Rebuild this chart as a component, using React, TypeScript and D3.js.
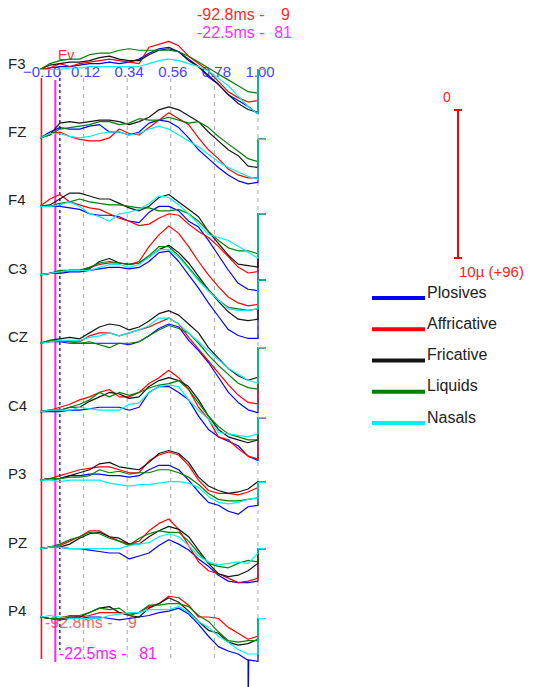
import React from "react";
import * as d3 from "d3";

// ---------- DATA ----------
const channels = ["F3", "FZ", "F4", "C3", "CZ", "C4", "P3", "PZ", "P4"];
const categories = ["Plosives", "Affricative", "Fricative", "Liquids", "Nasals"];
const categoryColors = ["#0000ff", "#ff0000", "#141414", "#008000", "#00f0f0"];
const times = [-0.1, -0.05, 0.0, 0.05, 0.1, 0.15, 0.2, 0.25, 0.3, 0.35, 0.4, 0.45, 0.5, 0.55, 0.6, 0.65, 0.7, 0.75, 0.8, 0.85, 0.9, 0.95, 1.0];
const tickValues = [-0.1, 0.12, 0.34, 0.56, 0.78, 1.0];
const gridValues = [0.12, 0.34, 0.56, 0.78, 1.0];
const cursorRed = -0.0928;
const cursorMagenta = -0.0225;
const cursorEvent = 0.0;
const cursorTexts = ["-92.8ms -", "9", "-22.5ms -", "81"];
const scaleBarValues = [0, 10];

// amplitudes in µV (positive = downward), series order = categories
const F3 = [
  [0, -0.1, -0.2, -0.2, -0.3, -0.4, -0.4, -0.5, -0.4, -0.5, -0.7, -1.1, -1.4, -1.5, -1.2, -0.7, -0.2, 0.5, 1.0, 1.7, 2.1, 2.5, 3.0],
  [0, -0.1, -0.4, -0.2, -0.4, -0.5, -0.6, -0.7, -0.6, -0.5, -0.4, -1.5, -1.7, -1.9, -1.6, -0.9, -0.4, 0.1, 0.8, 1.5, 1.9, 2.2, 2.1],
  [0, -0.3, -0.4, -0.5, -0.5, -0.6, -0.8, -0.9, -0.7, -0.6, -0.6, -1.0, -1.3, -1.4, -1.2, -0.6, -0.2, 0.4, 1.0, 1.7, 2.3, 2.7, 2.9],
  [0, -0.4, -0.6, -0.7, -0.7, -1.0, -1.1, -1.1, -1.3, -1.4, -1.3, -1.3, -1.3, -1.3, -1.2, -0.9, -0.5, -0.1, 0.3, 0.7, 1.1, 1.5, 1.6],
  [0, 0, 0, -0.1, -0.1, -0.2, -0.2, -0.2, -0.2, -0.2, -0.2, -0.4, -0.6, -0.7, -0.6, -0.4, -0.2, 0.1, 0.6, 1.1, 1.8, 2.5, 3.0],
];
const FZ = [
  [0, -0.4, -0.7, -0.6, -0.6, -0.8, -0.9, -0.4, -0.4, -0.2, -0.4, -1.0, -1.2, -1.1, -0.7, 0, 0.8, 1.4, 2.0, 2.5, 2.9, 3.1, 3.0],
  [0, -0.3, -0.4, -0.1, 0.1, 0.2, 0.2, 0, -0.6, -0.3, -0.2, -0.7, -1.2, -1.7, -1.3, -0.9, 0, 0.8, 1.4, 2.1, 2.5, 2.7, 2.7],
  [0, -0.2, -1.0, -1.1, -1.0, -1.1, -1.2, -1.2, -1.1, -0.9, -1.1, -1.4, -1.9, -2.1, -1.9, -1.5, -1.1, -0.4, 0.2, 0.8, 1.2, 1.9, 2.0],
  [0, -0.2, -0.6, -0.7, -0.8, -0.9, -1.1, -1.1, -0.9, -1.0, -1.3, -1.2, -1.2, -1.4, -1.2, -1.0, -1.1, -0.7, -0.1, 0.4, 0.9, 1.4, 1.6],
  [0, -0.3, -0.3, -0.1, 0, -0.1, -0.3, -0.4, -0.4, -0.2, -0.3, -0.6, -0.8, -0.6, -0.2, 0.2, 0.6, 1.1, 1.6, 2.0, 2.3, 2.6, 2.8],
];
const F4 = [
  [0, 0, 0, 0.1, 0.2, 0.5, 0.6, 0.6, 0.7, 1.0, 1.1, 0.4, 0, 0, 0.3, 1.0, 1.4, 2.3, 3.3, 4.3, 5.2, 5.6, 5.7],
  [0, -0.5, -0.8, -0.3, -0.1, 0.1, 0.2, 0.5, 0.8, 1.0, 1.3, 1.2, 0.8, 0.5, 0.6, 1.2, 1.7, 2.1, 2.7, 3.4, 4.1, 4.5, 4.4],
  [0, -0.1, -0.5, -0.9, -0.9, -0.7, -0.5, -0.5, -0.2, 0.1, 0.3, 0, -0.6, -0.8, -0.3, 0.2, 0.7, 1.7, 2.5, 3.3, 3.9, 4.0, 4.1],
  [0, 0, -0.2, -0.3, -0.5, -0.3, -0.2, -0.1, -0.1, 0, 0.1, 0.1, 0.3, 0.3, 0.2, 0.5, 1.0, 1.7, 2.3, 2.8, 3.0, 3.0, 3.2],
  [0, 0, -0.1, -0.3, 0, 0.5, 0.7, 1.0, 0.5, 0.4, 0.2, -0.2, -0.7, -0.6, -0.1, 0.5, 1.2, 1.9, 2.1, 2.3, 2.7, 3.1, 3.5],
];
const C3 = [
  [0, -0.1, -0.1, -0.2, -0.2, -0.3, -0.4, -0.5, -0.5, -0.4, -0.5, -0.9, -1.5, -1.6, -0.9, 0, 0.9, 1.9, 2.8, 3.7, 4.1, 4.3, 4.3],
  [0, -0.1, -0.2, -0.3, -0.3, -0.5, -0.7, -0.8, -0.8, -0.7, -0.9, -1.9, -2.7, -3.3, -2.8, -1.9, -0.9, 0, 0.8, 1.5, 1.9, 2.1, 2.0],
  [0, -0.1, -0.2, -0.3, -0.3, -0.4, -0.9, -1.1, -0.8, -0.7, -0.8, -1.2, -1.7, -2.0, -1.5, -0.8, 0.1, 1.0, 1.8, 2.5, 3.0, 3.1, 3.0],
  [0, -0.1, -0.3, -0.3, -0.3, -0.5, -0.8, -0.9, -0.8, -0.7, -0.8, -1.3, -1.9, -1.9, -1.3, -0.5, 0.3, 1.0, 1.7, 2.2, 2.3, 2.4, 2.3],
  [0, -0.1, -0.2, -0.3, -0.3, -0.3, -0.5, -0.7, -0.7, -0.5, -0.7, -1.2, -1.7, -1.7, -1.2, -0.4, 0.4, 1.1, 1.7, 2.3, 2.4, 2.4, 2.3],
];
const CZ = [
  [0, -0.1, -0.1, 0, 0, 0, 0, 0, 0, 0.1, -0.1, -0.5, -1.0, -1.3, -1.1, -0.2, 0.5, 1.3, 2.3, 3.3, 4.0, 4.5, 4.7],
  [0, -0.1, -0.2, -0.1, -0.1, -0.5, -0.7, -0.7, -0.5, -0.7, -0.9, -1.1, -1.4, -1.7, -1.3, -0.4, 0.4, 1.2, 2.0, 2.8, 3.5, 4.0, 4.1],
  [0, -0.2, -0.3, -0.4, -0.3, -0.7, -1.1, -1.3, -1.2, -0.9, -1.1, -1.5, -2.0, -2.2, -1.9, -1.3, -0.7, 0.3, 1.0, 1.7, 2.2, 2.5, 2.3],
  [0, -0.2, -0.2, -0.1, 0, -0.1, 0.1, 0.3, 0, 0, -0.1, -0.5, -0.9, -1.2, -1.0, -0.7, 0, 0.8, 1.5, 2.1, 2.7, 3.0, 3.1],
  [0, -0.1, -0.2, -0.2, -0.2, -0.4, -0.5, -0.7, -0.5, -0.7, -0.9, -1.2, -1.7, -1.7, -1.3, -0.7, -0.1, 0.5, 1.1, 1.7, 2.1, 2.5, 2.7],
];
const C4 = [
  [0, 0, 0, -0.1, -0.1, -0.2, -0.3, -0.3, -0.3, -0.1, -0.3, -1.3, -1.7, -1.7, -1.3, -0.8, 0.3, 1.2, 1.7, 2.0, 2.3, 3.0, 3.3],
  [0, -0.1, -0.3, -0.5, -0.8, -1.0, -1.3, -1.5, -1.0, -1.0, -1.3, -1.9, -2.3, -2.8, -2.3, -1.5, -0.3, 0.5, 1.7, 1.9, 2.5, 3.0, 3.2],
  [0, -0.1, -0.1, -0.3, -0.3, -0.7, -1.0, -1.3, -1.2, -0.9, -1.0, -1.7, -2.1, -2.3, -2.1, -1.7, -0.8, 0.3, 1.2, 1.7, 1.9, 2.1, 1.9],
  [0, -0.1, -0.1, -0.3, -0.5, -0.8, -1.3, -1.0, -1.3, -1.1, -1.3, -1.6, -1.8, -1.9, -2.1, -1.5, -0.6, 0.3, 1.0, 1.5, 1.7, 1.9, 1.9],
  [0, -0.1, -0.1, -0.1, -0.3, -0.2, -0.1, -0.1, -0.1, -0.5, -0.6, -1.3, -1.7, -1.8, -1.7, -0.8, -0.1, 0.5, 1.4, 1.5, 1.6, 1.7, 1.5],
];
const P3 = [
  [0, -0.1, -0.1, -0.3, -0.3, -0.4, -0.4, -0.3, -0.3, -0.2, -0.3, -0.7, -1.0, -1.0, -0.7, 0, 0.8, 1.5, 1.7, 2.1, 2.3, 1.8, 1.7],
  [0, -0.1, -0.3, -0.5, -0.7, -0.8, -0.9, -0.9, -0.7, -0.5, -0.5, -1.3, -1.7, -1.9, -1.7, -1.0, 0, 0.7, 0.9, 0.9, 1.0, 0.8, 0.5],
  [0, -0.1, -0.1, -0.3, -0.5, -0.7, -1.1, -1.2, -0.9, -0.8, -0.7, -1.2, -1.8, -2.0, -1.8, -1.2, -0.2, 0.4, 0.7, 0.9, 0.8, 0.6, 0.1],
  [0, -0.1, -0.1, -0.2, -0.2, -0.3, -0.7, -0.5, -0.6, -0.4, -0.5, -0.5, -0.7, -0.7, -0.5, -0.2, 0.3, 0.9, 1.3, 1.4, 1.4, 1.3, 1.2],
  [0, 0, 0.1, 0, 0, 0, 0, 0.2, 0.3, 0.4, 0.3, 0.3, 0.2, 0.1, 0.1, 0.2, 0.5, 1.1, 1.5, 1.6, 1.5, 1.3, 1.2],
];
const PZ = [
  [0, -0.1, -0.1, 0, 0, 0.1, 0.2, 0.3, 0.3, 0.7, 0.5, 0.3, -0.2, -0.6, -0.3, 0.1, 0.7, 1.2, 1.8, 2.2, 2.3, 2.3, 2.2],
  [0, -0.1, -0.2, -0.5, -0.8, -1.2, -1.2, -0.8, -0.5, -0.3, -0.5, -1.2, -1.7, -2.0, -1.3, -0.2, 0.9, 1.5, 1.7, 2.0, 2.3, 2.2, 2.0],
  [0, -0.1, -0.1, -0.3, -0.7, -1.0, -1.1, -0.8, -0.7, -0.3, -0.3, -0.8, -1.2, -1.5, -1.3, -0.8, 0.1, 1.0, 1.7, 1.9, 1.8, 1.5, 1.0],
  [0, -0.1, -0.3, -0.6, -0.8, -1.1, -1.0, -0.7, -0.5, -0.2, -0.7, -1.0, -1.2, -1.1, -1.1, -0.5, 0.3, 1.0, 1.2, 1.3, 1.0, 0.8, 0.9],
  [0, -0.1, -0.1, 0, 0, 0, 0, 0, 0, -0.2, -0.3, -0.4, -0.8, -1.0, -0.8, -0.2, 0.5, 0.9, 1.1, 1.0, 0.9, 1.0, 0.3],
];
const P4 = [
  [0, 0.1, 0.2, 0.1, 0.1, 0, 0, 0.1, 0.2, 0.1, 0, -0.1, -0.3, -0.4, -0.6, -0.2, 0.5, 1.3, 2.0, 2.3, 2.5, 2.9, 3.0],
  [0, 0.1, 0.2, 0, 0, -0.1, -0.3, -0.3, -0.3, -0.2, -0.3, -0.7, -0.9, -1.4, -1.3, -0.8, 0, 0, 0.1, 0.7, 1.1, 1.5, 1.3],
  [0, 0.1, 0.1, 0, 0, -0.3, -0.6, -0.7, -0.3, -0.1, 0, -0.6, -0.9, -1.3, -1.0, -0.4, 0.3, 0.9, 1.1, 1.7, 1.9, 1.8, 1.5],
  [0, 0.1, 0.1, -0.1, -0.1, -0.3, -0.6, -0.5, -0.6, -0.1, -0.3, -0.8, -0.8, -0.9, -0.9, -0.7, -0.1, 0.3, 1.0, 1.6, 1.7, 1.6, 1.6],
  [0, -0.1, 0, 0.1, 0.1, 0.1, 0.1, -0.1, -0.2, -0.3, -0.3, -0.5, -0.5, -0.5, -0.7, -0.3, 0.3, 0.7, 1.3, 1.7, 2.2, 2.5, 2.5],
];
// sharp excursion of the P4 Plosives trace near the end of the epoch: [time, µV]
const p4PlosivesSpike: [number, number][] = [[0.947, 2.9], [0.95, 6.5], [0.953, 2.9]];
// level each trace returns to after the epoch end (µV), per channel
const endLevels = [0, 0.1, 0.5, 0.35, 0.3, 0.4, 0.15, 0, 0.1];
const endTime = 1.04;

const channelData = [F3, FZ, F4, C3, CZ, C4, P3, PZ, P4];

// ---------- LAYOUT ----------
const W = 533;
const H = 687;
const FONT = "'Liberation Sans', Arial, Helvetica, sans-serif";

export default function App() {
  const x = d3.scaleLinear().domain([-0.1, 1.0]).range([40, 258]);
  const base = d3.scaleLinear().domain([0, channels.length - 1]).range([69.5, 617]);
  const amp = d3.scaleLinear().domain([0, 10]).range([0, 148]);
  const fmt = d3.format(".2f");

  const gridTop = 78;
  const gridBottom = 662;

  const traces: { d: string; color: string; key: string }[] = [];
  channelData.forEach((series, ci) => {
    const b = base(ci);
    const line = d3
      .line<[number, number]>()
      .x((p) => x(p[0]))
      .y((p) => b + amp(p[1]));
    series.forEach((vals, si) => {
      let pts: [number, number][] = vals.map((v, i) => [times[i], v]);
      if (ci === 8 && si === 0) {
        pts = pts.concat(p4PlosivesSpike).sort((a, c) => a[0] - c[0]);
      }
      pts.push([1.0, endLevels[ci]]);
      pts.push([endTime, endLevels[ci]]);
      traces.push({ d: line(pts) || "", color: categoryColors[si], key: `${ci}-${si}` });
    });
  });

  const legendY = d3.scaleLinear().domain([0, 4]).range([298, 423]);
  const barX = 458;
  const barTop = 110;

  return (
    <svg
      width={W}
      height={H}
      style={{ position: "absolute", left: 0, top: 0, background: "#fff" }}
      fontFamily={FONT}
    >
      <rect x={0} y={0} width={W} height={H} fill="#fff" />

      {/* grid lines */}
      {gridValues.map((g) => (
        <line
          key={g}
          x1={x(g)}
          x2={x(g)}
          y1={gridTop}
          y2={gridBottom}
          stroke="#a8a8a8"
          strokeWidth={1}
          strokeDasharray="4,4"
        />
      ))}

      {/* cursor lines */}
      <line x1={x(cursorRed)} x2={x(cursorRed)} y1={78} y2={659} stroke="#ff1010" strokeWidth={1.6} />
      <line x1={x(cursorMagenta)} x2={x(cursorMagenta)} y1={80} y2={662} stroke="#ff20ff" strokeWidth={2} />
      <line
        x1={x(cursorEvent)}
        x2={x(cursorEvent)}
        y1={72}
        y2={650}
        stroke="#2020ff"
        strokeWidth={1.5}
        strokeDasharray="3,3"
      />

      {/* cursor texts at the bottom */}
      <g fontSize={16}>
        <text x={45} y={628} fill="#ff3030" opacity={0.75}>{cursorTexts[0]}</text>
        <text x={137} y={628} fill="#ff3030" opacity={0.75} textAnchor="end">{cursorTexts[1]}</text>
        <text x={59} y={659} fill="#ff20ff">{cursorTexts[2]}</text>
        <text x={157} y={659} fill="#ff20ff" textAnchor="end">{cursorTexts[3]}</text>
      </g>

      {/* event label */}
      <text x={58} y={60} fontSize={14} fill="#ff3030">Ev</text>

      {/* tick labels */}
      {tickValues.map((t) => (
        <text key={t} x={x(t) + 2} y={77} fontSize={15} fill="#4545ff" textAnchor="middle">
          {fmt(t)}
        </text>
      ))}

      {/* channel labels */}
      {channels.map((c, i) => (
        <text key={c} x={8} y={base(i) - 1} fontSize={15} fill="#222">
          {c}
        </text>
      ))}

      {/* traces */}
      {traces.map((t) => (
        <path key={t.key} d={t.d} fill="none" stroke={t.color} strokeWidth={1.2} strokeLinejoin="round" />
      ))}

      {/* top-right cursor readouts */}
      <g fontSize={16}>
        <text x={197} y={20} fill="#ff2a2a">{cursorTexts[0]}</text>
        <text x={290} y={20} fill="#ff2a2a" textAnchor="end">{cursorTexts[1]}</text>
        <text x={197} y={38} fill="#ff30ff">{cursorTexts[2]}</text>
        <text x={292} y={38} fill="#ff30ff" textAnchor="end">{cursorTexts[3]}</text>
      </g>

      {/* scale bar */}
      <g stroke="#ff0000" strokeWidth={2}>
        <line x1={barX} x2={barX} y1={barTop + amp(scaleBarValues[0])} y2={barTop + amp(scaleBarValues[1])} />
        <line x1={barX - 4} x2={barX + 4} y1={barTop + amp(scaleBarValues[0])} y2={barTop + amp(scaleBarValues[0])} />
        <line x1={barX - 4} x2={barX + 4} y1={barTop + amp(scaleBarValues[1])} y2={barTop + amp(scaleBarValues[1])} />
      </g>
      <text x={447} y={102} fontSize={14} fill="#ff2020" textAnchor="middle">
        {scaleBarValues[0]}
      </text>
      <text x={459} y={277} fontSize={15} fill="#ff2020">
        {`${scaleBarValues[1]}µ (+96)`}
      </text>

      {/* legend */}
      {categories.map((c, i) => (
        <g key={c}>
          <line x1={372} x2={425} y1={legendY(i)} y2={legendY(i)} stroke={categoryColors[i]} strokeWidth={4} />
          <text x={427} y={legendY(i) - 0.5} fontSize={16} fill="#222">
            {c}
          </text>
        </g>
      ))}
    </svg>
  );
}
